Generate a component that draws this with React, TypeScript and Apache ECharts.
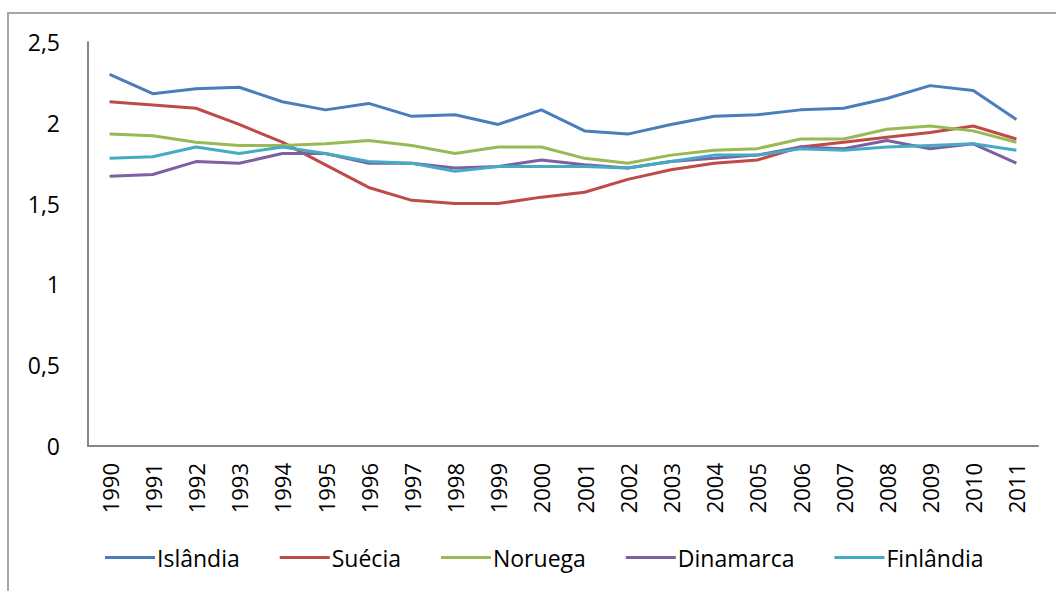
import React, { useEffect, useRef } from "react";
import * as echarts from "echarts";

const years = ["1990","1991","1992","1993","1994","1995","1996","1997","1998","1999","2000","2001","2002","2003","2004","2005","2006","2007","2008","2009","2010","2011"];
const islandia = [2.30,2.18,2.21,2.22,2.13,2.08,2.12,2.04,2.05,1.99,2.08,1.95,1.93,1.99,2.04,2.05,2.08,2.09,2.15,2.23,2.20,2.02];
const suecia = [2.13,2.11,2.09,1.99,1.88,1.74,1.60,1.52,1.50,1.50,1.54,1.57,1.65,1.71,1.75,1.77,1.85,1.88,1.91,1.94,1.98,1.90];
const noruega = [1.93,1.92,1.88,1.86,1.86,1.87,1.89,1.86,1.81,1.85,1.85,1.78,1.75,1.80,1.83,1.84,1.90,1.90,1.96,1.98,1.95,1.88];
const dinamarca = [1.67,1.68,1.76,1.75,1.81,1.81,1.75,1.75,1.72,1.73,1.77,1.74,1.72,1.76,1.78,1.80,1.85,1.84,1.89,1.84,1.87,1.75];
const finlandia = [1.78,1.79,1.85,1.81,1.85,1.81,1.76,1.75,1.70,1.73,1.73,1.73,1.72,1.76,1.80,1.80,1.84,1.83,1.85,1.86,1.87,1.83];

const seriesDefs = [
  { name: "Islândia", data: islandia, color: "#4a7ebb" },
  { name: "Suécia", data: suecia, color: "#be4b48" },
  { name: "Noruega", data: noruega, color: "#98b954" },
  { name: "Dinamarca", data: dinamarca, color: "#7d60a0" },
  { name: "Finlândia", data: finlandia, color: "#46aac5" },
];

const FONT = "'Open Sans', 'Noto Sans', sans-serif";

export default function App() {
  const ref = useRef<HTMLDivElement>(null);
  useEffect(() => {
    if (!ref.current) return;
    const chart = echarts.init(ref.current, null, { renderer: "svg" });
    chart.setOption({
      animation: false,
      backgroundColor: "#ffffff",
      textStyle: { fontFamily: FONT },
      graphic: [
        {
          type: "rect",
          shape: { x: 8, y: 13, width: 1200, height: 700 },
          style: { fill: "none", stroke: "#a6a6a6", lineWidth: 2 },
          silent: true,
        },
      ],
      grid: { left: 88, top: 42, right: 18, bottom: 145, containLabel: false },
      legend: {
        bottom: 17,
        left: 100,
        icon: "rect",
        itemWidth: 50,
        itemHeight: 3,
        itemGap: 40,
        textStyle: { fontSize: 23, color: "#000", fontFamily: FONT, padding: [0, 0, 0, -3] },
        data: seriesDefs.map((s) => s.name),
      },
      xAxis: {
        type: "category",
        data: years,
        boundaryGap: true,
        axisLine: { lineStyle: { color: "#868686", width: 2 } },
        axisTick: { show: false },
        axisLabel: { rotate: 90, fontSize: 22, color: "#000", margin: 17, fontFamily: FONT, interval: 0 },
      },
      yAxis: {
        type: "value",
        min: 0,
        max: 2.5,
        interval: 0.5,
        axisLine: { show: true, lineStyle: { color: "#868686", width: 2 } },
        axisTick: { show: false },
        splitLine: { show: false },
        axisLabel: {
          fontSize: 23,
          color: "#000",
          margin: 28,
          fontFamily: FONT,
          formatter: (v: number) => String(v).replace(".", ","),
        },
      },
      series: seriesDefs.map((s) => ({
        name: s.name,
        type: "line",
        data: s.data,
        showSymbol: false,
        symbol: "none",
        color: s.color,
        lineStyle: { color: s.color, width: 3 },
      })),
    });
    return () => chart.dispose();
  }, []);
  return (
    <div
      ref={ref}
      style={{ position: "fixed", left: 0, top: 0, width: 1056, height: 591 }}
    />
  );
}
